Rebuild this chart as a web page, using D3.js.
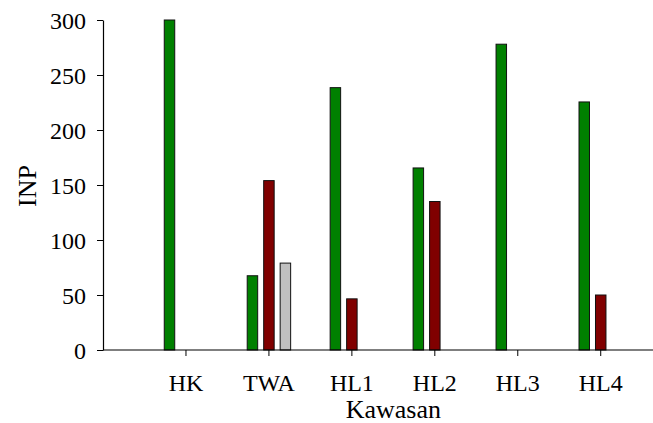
<!DOCTYPE html>
<html>
<head>
<meta charset="utf-8">
<script src="https://cdn.jsdelivr.net/npm/d3@7"></script>
<style>
  html, body { margin: 0; padding: 0; background: #fff; }
  svg { display: block; }
  text { font-family: "Liberation Serif", "Times New Roman", serif; fill: #000; }
</style>
</head>
<body>
<svg id="chart" width="653" height="423"></svg>
<script>
const categories = ["HK", "TWA", "HL1", "HL2", "HL3", "HL4"];
const seriesNames = ["s1", "s2", "s3"];
const seriesColors = ["#008000", "#800000", "#c0c0c0"];
const s1Values = [300, 67.5, 238.5, 165.5, 278, 225.5];
const s2Values = [0, 154, 46.5, 135, 0, 50];
const s3Values = [0, 79, 0, 0, 0, 0];
const yTicks = [0, 50, 100, 150, 200, 250, 300];
const yTitle = "INP";
const xTitle = "Kawasan";

const seriesValues = [s1Values, s2Values, s3Values];
const svg = d3.select("#chart");
const serif = '"Liberation Serif", "Times New Roman", serif';

const axisLeftX = 103, axisRightX = 653;
const y = d3.scaleLinear().domain([0, 300]).range([350, 20]);
const x0 = d3.scaleBand().domain(categories).range([144.5, 642.2])
  .paddingInner(0.404).paddingOuter(0.202);
const x1 = d3.scaleBand().domain(seriesNames).range([0, x0.bandwidth()])
  .paddingInner(0.364).paddingOuter(0.182);

// bars
const groups = svg.append("g").selectAll("g")
  .data(categories)
  .join("g")
  .attr("transform", d => `translate(${x0(d)},0)`);

groups.selectAll("rect")
  .data((c, i) => seriesNames.map((s, j) => ({ s, j, v: seriesValues[j][i] })).filter(d => d.v > 0))
  .join("rect")
  .attr("x", d => x1(d.s))
  .attr("y", d => y(d.v))
  .attr("width", x1.bandwidth())
  .attr("height", d => y(0) - y(d.v))
  .attr("fill", d => seriesColors[d.j])
  .attr("stroke", "#111")
  .attr("stroke-width", 1);

// y axis
const yAxis = svg.append("g")
  .attr("transform", `translate(${axisLeftX},0)`)
  .call(d3.axisLeft(y).tickValues(yTicks).tickSize(6).tickPadding(11).tickSizeOuter(0));
yAxis.attr("font-family", serif);
yAxis.select(".domain").attr("stroke", "#000").attr("stroke-width", 1.2);
yAxis.selectAll(".tick line").attr("stroke", "#000");
yAxis.selectAll("text").style("font-size", "24px").style("font-family", serif).attr("dy", "0.34em");

// x axis
const xAxis = svg.append("g")
  .attr("transform", `translate(0,${y(0)})`)
  .call(d3.axisBottom(x0).tickSize(6).tickPadding(18).tickSizeOuter(0));
xAxis.attr("font-family", serif);
xAxis.select(".domain").remove();
xAxis.append("line")
  .attr("x1", axisLeftX).attr("x2", axisRightX)
  .attr("y1", 0).attr("y2", 0)
  .attr("stroke", "#000").attr("stroke-width", 1.2);
xAxis.selectAll(".tick line").attr("stroke", "#000");
xAxis.selectAll("text").style("font-size", "24px").style("font-family", serif);

// titles
svg.append("text")
  .attr("transform", `translate(36,186) rotate(-90)`)
  .attr("text-anchor", "middle")
  .style("font-size", "26px")
  .text(yTitle);

svg.append("text")
  .attr("x", (x0(categories[0]) + x0(categories[categories.length - 1]) + x0.bandwidth()) / 2)
  .attr("y", 418)
  .attr("text-anchor", "middle")
  .style("font-size", "26px")
  .text(xTitle);
</script>
</body>
</html>
